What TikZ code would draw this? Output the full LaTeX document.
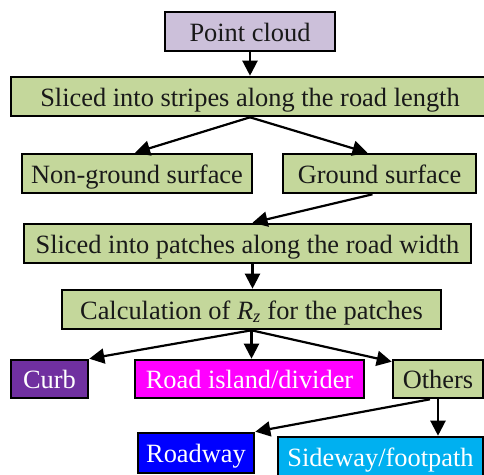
\documentclass[tikz,border=0pt]{standalone}
\usepackage{fontspec}
\setmainfont{Liberation Serif}
\usetikzlibrary{arrows.meta}
\definecolor{lav}{HTML}{CCC0DA}
\definecolor{grn}{HTML}{C4D79B}
\definecolor{curbc}{HTML}{7030A0}
\definecolor{islc}{HTML}{FF00FF}
\definecolor{roadc}{HTML}{0000FF}
\definecolor{sidec}{HTML}{00B0F0}
\begin{document}
\begin{tikzpicture}[x=1pt,y=-1pt,
  box/.style={draw=black,line width=2.6pt,inner sep=0pt,minimum height=39pt,
    text height=20pt,text depth=1pt,
    font=\fontsize{26.4}{30}\selectfont,text=black!90},
  gbox/.style={box,fill=grn},
  wbox/.style={box,text=white},
  arr/.style={line width=2.2pt,-{Triangle[length=15pt,width=15pt]}}]
\useasboundingbox (0,0) rectangle (484,474);
\clip (0,0) rectangle (484,474);
\node[box,fill=lav,minimum width=170pt] (pc) at (250,31.5) {Point cloud};
\node[gbox,minimum width=478pt] (stripes) at (250,96.5) {Sliced into stripes along the road length};
\node[gbox,minimum width=230pt] (ng) at (137,173.5) {Non-ground surface};
\node[gbox,minimum width=193pt] (gs) at (379.5,173.5) {Ground surface};
\node[gbox,minimum width=447pt] (patch) at (247.5,243.5) {Sliced into patches along the road width};
\node[gbox,minimum width=379pt] (calc) at (251.5,309.5) {Calculation of \textit{R}\textsubscript{\textit{z}} for the patches};
\node[wbox,fill=curbc,minimum width=77pt,minimum height=38pt] (curb) at (49.5,379) {Curb};
\node[wbox,fill=islc,minimum width=229pt,minimum height=38pt] (isl) at (249.5,379) {Road island/divider};
\node[gbox,minimum width=90pt,minimum height=38pt] (oth) at (438,379) {Others};
\node[wbox,fill=roadc,minimum width=116pt,minimum height=40pt] (road) at (196,453) {Roadway};
\node[wbox,fill=sidec,minimum width=205pt,minimum height=39pt] (side) at (380.5,456.5) {Sideway/footpath};
\draw[arr] (pc.south) -- (stripes.north);
\draw[arr] (stripes.south) -- ([xshift=-2pt]ng.north);
\draw[arr] (stripes.south) -- ([xshift=-12pt]gs.north);
\draw[arr] ([xshift=-7pt]gs.south) -- ([xshift=5pt]patch.north);
\draw[arr] ([xshift=5pt]patch.south) -- ([xshift=1pt]calc.north);
\draw[arr] (calc.south) -- (curb.north east);
\draw[arr] (calc.south) -- ([xshift=2pt]isl.north);
\draw[arr] (calc.south) -- ([yshift=-3pt]oth.north west);
\draw[arr] ([xshift=-8pt]oth.south) -- (road.north east);
\draw[arr] (oth.south) -- (oth.south |- side.north);
\end{tikzpicture}
\end{document}
